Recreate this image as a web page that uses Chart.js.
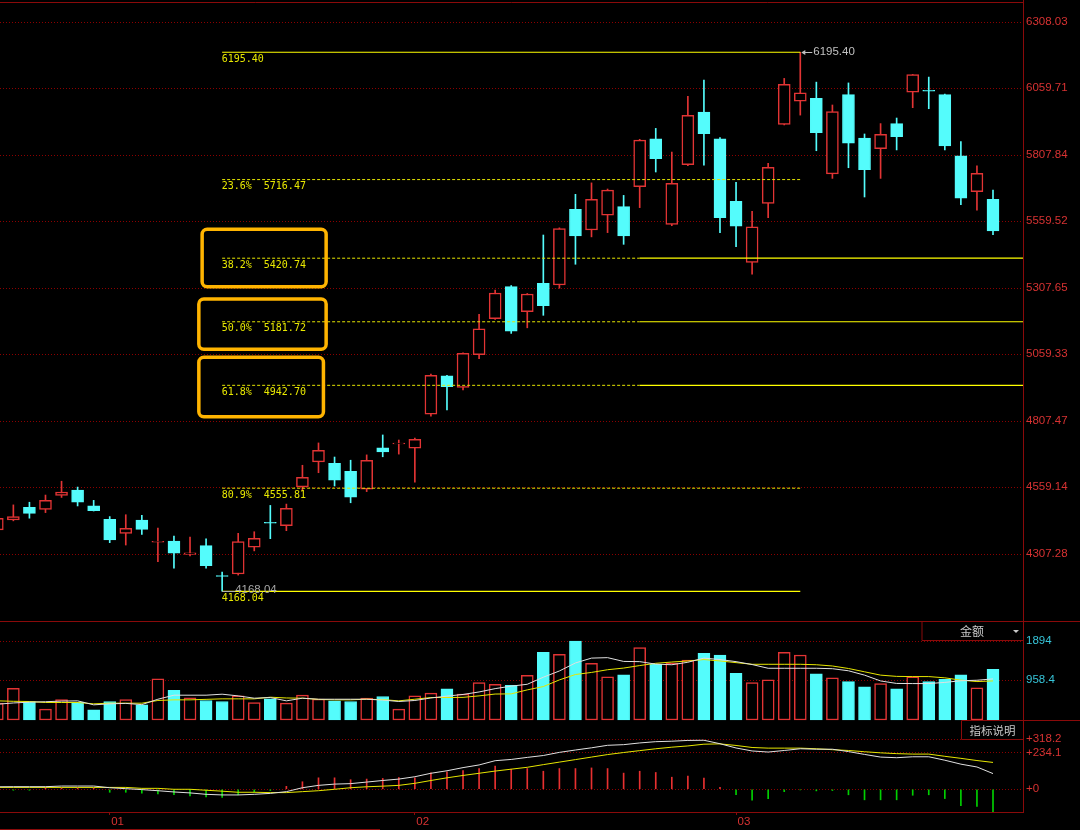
<!DOCTYPE html>
<html>
<head>
<meta charset="utf-8">
<script src="https://cdn.jsdelivr.net/npm/chart.js@4.4.1/dist/chart.umd.min.js"></script>
<style>
html,body{margin:0;padding:0;background:#000;}
body{width:1080px;height:830px;position:relative;overflow:hidden;}
canvas{position:absolute;left:0;display:block;}
</style>
</head>
<body>
<canvas id="pricePane" width="1080" height="621" style="top:0px"></canvas>
<canvas id="volPane" width="1080" height="100" style="top:621px"></canvas>
<canvas id="macdPane" width="1080" height="110" style="top:720px"></canvas>
<script>
// ---------------- DATA ----------------
const opens  = [4399,4436,4484,4476,4529,4549,4489,4439,4386,4436,4353,4357,4307,4340,4227,4233,4334,4427,4415,4561,4655,4649,4619,4552,4708,4722,4706,4834,4978,4935,5058,5193,5314,5220,5326,5320,5605,5527,5583,5615,5690,5870,5548,5773,5970,5870,5635,5405,5627,5924,6011,6022,5738,6036,5873,5833,5927,6045,6052,6036,5806,5671,5642];
const closes = [4442,4449,4461,4510,4541,4503,4471,4361,4405,4401,4356,4311,4313,4264,4224,4355,4367,4424,4480,4597,4698,4586,4522,4661,4692,4725,4740,4980,4938,5063,5155,5290,5146,5286,5242,5532,5505,5642,5677,5505,5865,5795,5702,5958,5889,5573,5541,5539,5763,6075,6043,5893,5972,5853,5754,5887,5878,6111,6049,5843,5647,5740,5523];
const highs  = [4452,4493,4503,4530,4582,4560,4510,4449,4456,4454,4406,4376,4372,4365,4240,4386,4392,4491,4496,4642,4726,4673,4661,4681,4756,4737,4744,4985,4980,5065,5210,5301,5318,5288,5508,5535,5661,5704,5681,5657,5868,5909,5820,6030,6091,5874,5706,5597,5778,6097,6195.40,6083,5997,6080,5888,5927,5948,6112,6102,6038,5859,5768,5677];
const lows   = [4390,4433,4443,4464,4521,4489,4470,4351,4342,4382,4279,4255,4301,4255,4168.04,4229,4320,4366,4396,4546,4614,4564,4501,4543,4674,4684,4578,4827,4850,4925,5043,5191,5138,5159,5206,5308,5398,5501,5517,5473,5611,5745,5543,5769,5771,5517,5464,5361,5573,5922,5959,5825,5721,5761,5651,5721,5828,5987,5983,5828,5622,5601,5509];

const volumes = [405,765,445,261,493,429,245,445,493,365,989,717,533,469,445,581,421,509,405,597,501,461,445,525,565,261,581,645,749,621,901,861,837,1077,1629,1581,1901,1365,1037,1085,1741,1341,1370,1445,1605,1565,1125,901,965,1629,1565,1109,1013,925,797,877,749,1037,925,981,1085,773,1221];
const volMa5  = [380,410,429,440,455,461,365,389,400,370,500,597,597,597,621,580,525,541,461,525,500,500,500,500,480,445,470,530,575,615,675,755,815,860,1030,1180,1373,1490,1501,1410,1405,1345,1330,1390,1490,1455,1405,1335,1245,1245,1245,1245,1235,1185,1080,940,880,877,877,905,945,957,989];
const volMa10 = [461,450,445,421,421,421,389,405,405,405,470,485,485,497,509,509,509,549,530,525,495,485,485,501,490,461,500,541,541,545,581,625,629,725,805,965,1095,1145,1210,1250,1310,1365,1395,1420,1455,1421,1381,1341,1341,1341,1341,1330,1300,1240,1160,1080,1050,1045,1045,1015,960,925,941];

const macdDif  = [16,16.5,16.5,16.5,20.7,20.7,20.7,10,4,-2,-9,-17,-23,-32,-36,-36,-32,-26,-15,10,25,33,36,46,56,65,80,102,118,138,155,182,190,203,215,235,250,264,280,284,295,303,306,311,312,290,263,244,237,247,258,255,255,240,222,205,201,207,207,185,160,142,100];
const macdDea  = [12,12,12,12,12,12,12,12,12,6,6,0,0,-6,-12,-19,-19,-21,-21,-15,-9,0,10,16,20,25,38,56,73,88,102,116,128,140,157,173,189,205,221,234,246,258,268,276,287,289,279,266,262,262,262,258,252,247,239,232,227,224,224,210,197,183,171];
const macdHist = [2,-6,-6,8,8,8,6,-19,-19,-25,-29,-35,-42,-48,-52,-35,-19,-8,19,48,73,73,61,65,69,75,73,105,111,119,132,147,128,132,115,132,132,136,132,103,115,107,77,84,71,13,-35,-69,-59,-15,-4,-10,-8,-35,-67,-67,-67,-38,-35,-59,-105,-109,-144];

const priceTicks = [6308.03,6059.71,5807.84,5559.52,5307.65,5059.33,4807.47,4559.14,4307.28];
const volTicks = [1894,958.4];
const volTickLabels = ['1894','958.4'];
const macdTicks = [318.2,234.1,0];
const macdTickLabels = ['+318.2','+234.1','+0'];
const monthLabels = ['01','02','03'];
const monthStartIdx = [7,26,46];

const fibRatios = ['','23.6%','38.2%','50.0%','61.8%','80.9%',''];
const fibValues = [6195.40,5716.47,5420.74,5181.72,4942.70,4555.81,4168.04];
const fibStartIdx = 14, fibEndIdx = 50;
const fibExtendFrom = [null,null,40,40,40,null,null];
const highlightLevels = [2,3,4];

const volPanelName = '金额';
const indicatorNote = '指标说明';

// ---------------- STYLE ----------------
const X_MIN = 0.168, X_MAX = 63.868;
const FRAME = '#8a0a0a', GRID = '#8c0000', AXIS_TXT = '#d83232', VOL_TXT = '#36c4d8';
const UP = '#e23434', DOWN = '#54fcfc', YEL = '#ffff00', YEL_D = '#e6e600', GRAY = '#c0c0c0';
const AXIS_FONT = {family:'Liberation Sans', size:11.5};
const dayIdx = opens.map((_, i) => i);
const isUp = i => closes[i] >= opens[i];

Chart.defaults.animation = false;
Chart.defaults.font.family = 'Liberation Sans';

function xAxis(show) {
  return { type:'linear', min:X_MIN, max:X_MAX, display:show, offset:false, bounds:'data', grace:0,
    grid:{offset:false},
    afterFit: s => { s.paddingLeft = 0; s.paddingRight = 0; s.paddingTop = 0; s.paddingBottom = 0; } };
}
function rightAxis(min, max, vals, fmt, color) {
  return {
    position:'right', min, max, offset:false,
    afterBuildTicks: s => { s.ticks = vals.map(v => ({value:v})); },
    afterFit: s => { s.width = 57; s.paddingTop = 0; s.paddingBottom = 0; },
    ticks: { callback: (v, i) => fmt(v, i), color, font: AXIS_FONT, padding: 3, autoSkip:false },
    grid: { color: GRID, drawTicks:false, lineWidth:1 },
    border: { color: FRAME, width:1, dash:[1,2] }
  };
}
const baseOpts = {
  responsive:false, devicePixelRatio:1, animation:false,
  layout:{padding:0},
  plugins:{legend:{display:false}, tooltip:{enabled:false}},
  elements:{point:{radius:0}, line:{tension:0}}
};

// ---------------- PRICE PANE ----------------
const fibSets = [];
fibValues.forEach((v, k) => {
  const edge = (k === 0 || k === fibValues.length - 1);
  const ext = fibExtendFrom[k];
  fibSets.push({ type:'line', order:1, clip:0,
    data:[{x:fibStartIdx, y:v}, {x: ext !== null ? ext : fibEndIdx, y:v}],
    borderColor: edge ? YEL : YEL_D, borderWidth: edge ? 1.2 : 1, borderDash: edge ? [] : [3,2] });
  if (ext !== null) {
    fibSets.push({ type:'line', order:1, clip:0,
      data:[{x:ext, y:v}, {x:X_MAX, y:v}], borderColor: YEL, borderWidth:1.2 });
  }
});

const priceOverlay = {
  id:'priceOverlay',
  beforeDatasetsDraw(chart) {
    const {ctx} = chart;
    ctx.save();
    ctx.strokeStyle = FRAME; ctx.lineWidth = 1;
    ctx.beginPath(); ctx.moveTo(0, 2.5); ctx.lineTo(chart.chartArea.right, 2.5); ctx.stroke();
    ctx.restore();
  },
  afterDatasetsDraw(chart) {
    const {ctx, scales:{x, y}} = chart;
    ctx.save();
    const lx = x.getPixelForValue(fibStartIdx);
    ctx.font = "10px 'DejaVu Sans Mono'";
    ctx.textBaseline = 'top'; ctx.textAlign = 'left';
    ctx.fillStyle = '#e8e800';
    fibValues.forEach((v, k) => {
      const py = y.getPixelForValue(v);
      ctx.fillText((fibRatios[k] ? fibRatios[k] + '  ' : '') + v.toFixed(2), lx - 0.5, py + 2);
    });
    const HL = [{l:-20,r:104,t:-29,b:28.5},{l:-23.3,r:104,t:-22.8,b:27.5},{l:-23.3,r:101.3,t:-28,b:31.4}];
    ctx.strokeStyle = '#ffb400'; ctx.lineWidth = 3.5;
    highlightLevels.forEach((k, j) => {
      const py = y.getPixelForValue(fibValues[k]);
      const b = HL[j];
      ctx.beginPath();
      ctx.roundRect(lx + b.l, py + b.t, b.r - b.l, b.b - b.t, 5);
      ctx.stroke();
    });
    const hi = Math.max(...highs), hiIdx = highs.indexOf(hi);
    const hx = x.getPixelForValue(hiIdx), hy = Math.round(y.getPixelForValue(hi)) + 0.5;
    ctx.strokeStyle = GRAY; ctx.fillStyle = GRAY; ctx.lineWidth = 1;
    ctx.beginPath(); ctx.moveTo(hx + 2, hy); ctx.lineTo(hx + 12, hy); ctx.stroke();
    ctx.beginPath(); ctx.moveTo(hx + 1, hy); ctx.lineTo(hx + 5, hy - 2.5); ctx.lineTo(hx + 5, hy + 2.5); ctx.closePath(); ctx.fill();
    ctx.font = "11.5px 'Liberation Sans'"; ctx.textBaseline = 'middle';
    ctx.fillText(hi.toFixed(2), hx + 13, hy - 1);
    const lo = Math.min(...lows), loIdx = lows.indexOf(lo);
    const qx = x.getPixelForValue(loIdx), qy = Math.round(y.getPixelForValue(lo)) + 0.5;
    ctx.strokeStyle = '#b0b0b0'; ctx.fillStyle = '#a8a8a8';
    ctx.beginPath(); ctx.moveTo(qx, qy); ctx.lineTo(qx + 13, qy); ctx.stroke();
    ctx.fillText(lo.toFixed(2), qx + 13, qy - 1.5);
    ctx.restore();
  }
};

new Chart(document.getElementById('pricePane'), {
  type:'bar',
  data:{ datasets:[
    { label:'wick', order:3, grouped:false, clip:0, barThickness:1,
      data: dayIdx.map(i => ({x:i, y:[lows[i], highs[i]]})),
      backgroundColor: dayIdx.map(i => isUp(i) ? UP : DOWN), borderWidth:0 },
    { label:'body', order:2, grouped:false, clip:0, barThickness:12, borderSkipped:false,
      data: dayIdx.map(i => ({x:i, y:[opens[i], closes[i]]})),
      backgroundColor: dayIdx.map(i => isUp(i) ? '#000000' : DOWN),
      borderColor: dayIdx.map(i => isUp(i) ? UP : DOWN),
      borderWidth: dayIdx.map(i => isUp(i) ? 1.5 : 1) },
    ...fibSets
  ]},
  options: Object.assign({}, baseOpts, {
    scales:{
      x: xAxis(false),
      y: rightAxis(4056.3, 6391.9, priceTicks, v => v.toFixed(2), AXIS_TXT)
    }
  }),
  plugins:[priceOverlay]
});

// ---------------- VOLUME PANE ----------------
const volOverlay = {
  id:'volOverlay',
  afterDraw(chart) {
    const {ctx, chartArea} = chart;
    const r = chartArea.right;
    ctx.save();
    ctx.strokeStyle = FRAME; ctx.lineWidth = 1;
    ctx.beginPath(); ctx.moveTo(0, 0.5); ctx.lineTo(1080, 0.5); ctx.stroke();
    ctx.beginPath(); ctx.moveTo(r - 101, 0.5); ctx.lineTo(r - 101, 19.5); ctx.lineTo(r, 19.5); ctx.stroke();
    ctx.fillStyle = '#c8c8c8';
    ctx.font = "12px 'Noto Sans CJK SC'"; ctx.textAlign = 'center'; ctx.textBaseline = 'middle';
    ctx.fillText(volPanelName, r - 51, 10.5);
    ctx.beginPath(); ctx.moveTo(r - 10, 9); ctx.lineTo(r - 4, 9); ctx.lineTo(r - 7, 12); ctx.closePath(); ctx.fill();
    ctx.restore();
  }
};
new Chart(document.getElementById('volPane'), {
  type:'bar',
  data:{ datasets:[
    { type:'line', order:1, clip:0, data: dayIdx.map(i => ({x:i, y:volMa5[i]})), borderColor:'#e0e0e0', borderWidth:1 },
    { type:'line', order:2, clip:0, data: dayIdx.map(i => ({x:i, y:volMa10[i]})), borderColor:YEL_D, borderWidth:1 },
    { order:3, grouped:false, clip:{left:0,right:0,top:0,bottom:false}, barThickness:12, borderSkipped:false,
      data: dayIdx.map(i => ({x:i, y:volumes[i]})),
      backgroundColor: dayIdx.map(i => isUp(i) ? '#000000' : DOWN),
      borderColor: dayIdx.map(i => isUp(i) ? UP : DOWN),
      borderWidth: dayIdx.map(i => isUp(i) ? 1.5 : 1) }
  ]},
  options: Object.assign({}, baseOpts, {
    scales:{
      x: xAxis(false),
      y: rightAxis(-24.07, 2383, volTicks, (v, i) => volTickLabels[i], VOL_TXT)
    }
  }),
  plugins:[volOverlay]
});

// ---------------- MACD PANE ----------------
const macdOverlay = {
  id:'macdOverlay',
  afterDraw(chart) {
    const {ctx, chartArea} = chart;
    const r = chartArea.right;
    ctx.save();
    ctx.strokeStyle = FRAME; ctx.lineWidth = 1;
    ctx.beginPath(); ctx.moveTo(r - 61.5, 0.5); ctx.lineTo(1080, 0.5); ctx.stroke();
    ctx.beginPath(); ctx.moveTo(r - 61.5, 0.5); ctx.lineTo(r - 61.5, 19.5); ctx.lineTo(r, 19.5); ctx.stroke();
    ctx.beginPath(); ctx.moveTo(0, 109.5); ctx.lineTo(380, 109.5); ctx.stroke();
    ctx.fillStyle = '#c8c8c8';
    ctx.font = "11.5px 'Noto Sans CJK SC'"; ctx.textAlign = 'center'; ctx.textBaseline = 'middle';
    ctx.fillText(indicatorNote, r - 30.5, 10.5);
    ctx.restore();
  }
};
const macdX = xAxis(true);
Object.assign(macdX, {
  position:'bottom',
  afterBuildTicks: s => { s.ticks = monthStartIdx.map(v => ({value:v})); },
  afterFit: s => { s.height = 18; s.paddingLeft = 0; s.paddingRight = 0; },
  ticks:{ callback:(v, i) => monthLabels[i], color:AXIS_TXT, font:AXIS_FONT, padding:0,
          align:'start', labelOffset:1.5, maxRotation:0, autoSkip:false },
  grid:{ drawOnChartArea:false, drawTicks:true, tickLength:3, color:FRAME, offset:false },
  border:{ display:true, color:FRAME, width:1 }
});
new Chart(document.getElementById('macdPane'), {
  type:'bar',
  data:{ datasets:[
    { type:'line', order:1, clip:0, data: dayIdx.map(i => ({x:i, y:macdDif[i]})), borderColor:'#e0e0e0', borderWidth:1 },
    { type:'line', order:2, clip:0, data: dayIdx.map(i => ({x:i, y:macdDea[i]})), borderColor:YEL_D, borderWidth:1 },
    { order:3, grouped:false, clip:0, barThickness:1,
      data: dayIdx.map(i => ({x:i, y:macdHist[i]})),
      backgroundColor: dayIdx.map(i => macdHist[i] >= 0 ? '#e83030' : '#00d000'), borderWidth:0 }
  ]},
  options: Object.assign({}, baseOpts, {
    scales:{
      x: macdX,
      y: rightAxis(-144.5, 441, macdTicks, (v, i) => macdTickLabels[i], AXIS_TXT)
    }
  }),
  plugins:[macdOverlay]
});
</script>
</body>
</html>
